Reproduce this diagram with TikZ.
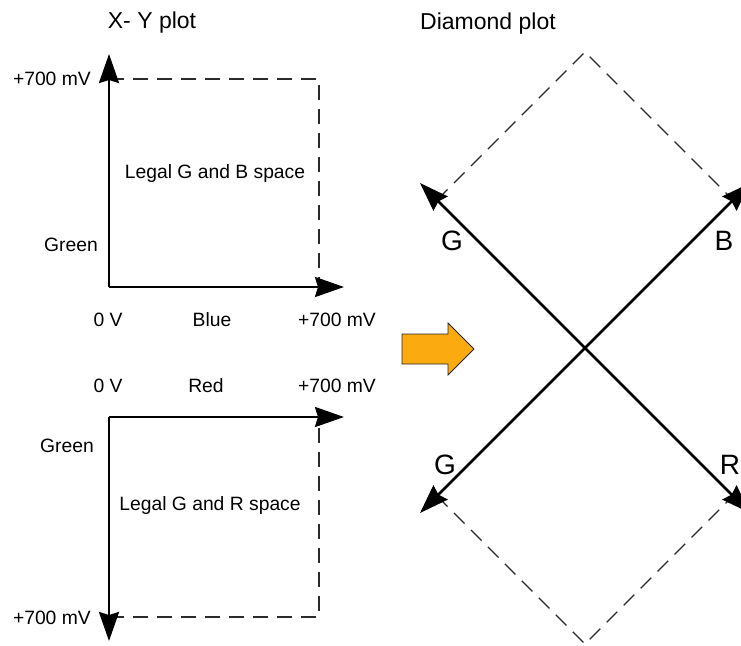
\documentclass[tikz,border=0pt]{standalone}
\usepackage{fontspec}
\setmainfont{Liberation Sans}
\usepackage{tikz}
\usetikzlibrary{arrows.meta}
\definecolor{dshc}{HTML}{2A2A2A}
\definecolor{hintc}{HTML}{FBAA10}
\tikzset{
  ax/.style={-{Stealth[length=29pt,width=20pt,inset=3pt]},line width=2.6pt,black},
  dsh/.style={dshc,line width=1.2pt,dash pattern=on 15pt off 9pt},
  lbl/.style={font=\fontsize{19.3}{21}\selectfont,inner sep=0pt},
  ttl/.style={font=\fontsize{23}{25}\selectfont,inner sep=0pt},
  chn/.style={font=\fontsize{28}{30}\selectfont,inner sep=0pt}
}
\begin{document}
\begin{tikzpicture}[x=1pt,y=-1pt]
\useasboundingbox (0,0) rectangle (741,645);
% X-Y plot, green against blue
\coordinate (o1) at (109,287);
\coordinate (g1) at (109,54);
\coordinate (b1) at (344,287);
\coordinate (gt1) at (109,79);
\coordinate (c1) at (319,79);
\coordinate (br1) at (319,287);
\draw[dsh] (gt1) -- (c1) -- (br1);
\draw[ax] (o1) -- (g1);
\draw[ax] (o1) -- (b1);
\node[ttl] (xyt) at (152,23) {X- Y plot};
\node[lbl,anchor=east] (gmax1) at (91,79) {+700 mV};
\node[lbl,anchor=east] (gn1) at (98,245) {Green};
\node[lbl] (z1) at (108,320) {0 V};
\node[lbl] (bl1) at (212,320) {Blue};
\node[lbl] (bmax1) at (337,320) {+700 mV};
\node[lbl] (sp1) at (215,174) {Legal G and B space};
% X-Y plot, green against red
\coordinate (o2) at (109,417);
\coordinate (g2) at (109,641);
\coordinate (r2) at (344,417);
\coordinate (gb2) at (109,617);
\coordinate (c2) at (319,617);
\coordinate (rr2) at (319,417);
\draw[dsh] (gb2) -- (c2) -- (rr2);
\draw[ax] (o2) -- (g2);
\draw[ax] (o2) -- (r2);
\node[lbl] (z2) at (108,386) {0 V};
\node[lbl] (rd2) at (206,386) {Red};
\node[lbl] (rmax2) at (337,386) {+700 mV};
\node[lbl,anchor=east] (gn2) at (94,446) {Green};
\node[lbl] (sp2) at (210,506) {Legal G and R space};
\node[lbl,anchor=east] (gmax2) at (91,618) {+700 mV};
% arrow between the plots
\fill[hintc,draw=black!85,line width=0.8pt] (402,334) -- (448,334) -- (448,323) -- (474,349)
  -- (448,375) -- (448,364) -- (402,364) -- cycle;
% diamond plot
\coordinate (dc) at (585,348);
\coordinate (dt) at (585,52);
\coordinate (db) at (585,644);
\coordinate (dul) at (437,200);
\coordinate (dur) at (733,200);
\coordinate (dll) at (437,496);
\coordinate (dlr) at (733,496);
\coordinate (tg) at (420,183);
\coordinate (tb) at (750,183);
\coordinate (tg2) at (420,513);
\coordinate (tr) at (750,513);
\draw[dsh] (dul) -- (dt) -- (dur);
\draw[dsh] (dll) -- (db) -- (dlr);
\draw[ax] (dc) -- (tg);
\draw[ax] (dc) -- (tb);
\draw[ax] (dc) -- (tg2);
\draw[ax] (dc) -- (tr);
\node[ttl] (dmt) at (488,24) {Diamond plot};
\node[chn] (lg1) at (452,241) {G};
\node[chn] (lb) at (724,241) {B};
\node[chn] (lg2) at (445,465) {G};
\node[chn] (lr) at (730,465) {R};
\end{tikzpicture}
\end{document}
